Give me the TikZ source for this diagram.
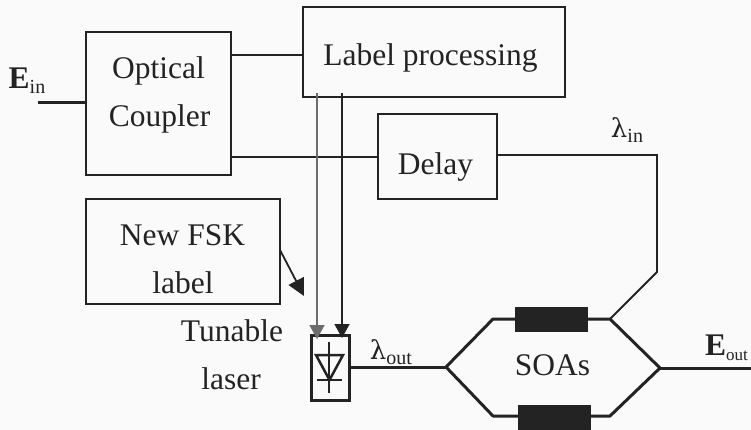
\documentclass[tikz,border=0pt]{standalone}
\usepackage{fontspec}
\setmainfont{Liberation Serif}
\newfontfamily\lamfont{DejaVu Serif}
\usetikzlibrary{arrows.meta}
\definecolor{ink}{HTML}{232323}
\definecolor{paper}{HTML}{FAFAFA}
\tikzset{
  boxnode/.style={draw=ink,line width=1.7pt,minimum width=#1,inner sep=0pt,outer sep=0pt},
  txt/.style={text=ink,font=\fontsize{31.5}{36}\selectfont,inner sep=0pt,anchor=base},
  wire/.style={draw=ink,line width=1.8pt},
  bus/.style={draw=ink,line width=3pt},
  soa/.style={fill=ink,draw=none,minimum width=73pt,inner sep=0pt,outer sep=0pt},
  ctrl/.style={line width=1.5pt,-{Triangle[length=14pt,width=15pt]}},
}
\newcommand{\subtxt}[1]{{\fontsize{20}{20}\selectfont\raisebox{-5pt}{#1}}}
\begin{document}
\begin{tikzpicture}[x=1pt,y=-1pt]
\path[fill=paper] (0,0) rectangle (751,430);
\useasboundingbox (0,0) rectangle (751,430);
% boxes
\node[boxnode=145pt,minimum height=143pt] (coupler) at (158.5,103.5) {};
\node[boxnode=262pt,minimum height=90pt] (label) at (434,52) {};
\node[boxnode=119pt,minimum height=85pt] (delay) at (437.5,156.5) {};
\node[boxnode=194pt,minimum height=105pt] (fsk) at (183,251.5) {};
\node[draw=ink,line width=3pt,minimum width=38pt,minimum height=65pt,inner sep=0pt,outer sep=0pt] (laser) at (330,367.5) {};
\node[soa,minimum height=25pt] (soaA) at (551.5,319.5) {};
\node[soa,minimum height=25pt] (soaB) at (554.5,417) {};
% texts
\node[txt] (t1) at (158.5,79) {Optical};
\node[txt] (t2) at (159.5,127) {Coupler};
\node[txt] (t3) at (430.5,66) {Label processing};
\node[txt] (t4) at (435.5,175) {Delay};
\node[txt] (t5) at (182.5,245) {New FSK};
\node[txt] (t6) at (183,293) {label};
\node[txt] (t7) at (232,341) {Tunable};
\node[txt] (t8) at (231,389) {laser};
\node[txt] (t9) at (552.5,375) {SOAs};
\node[txt] (t10) at (27,89) {\textbf{E}\subtxt{in}};
\node[txt,anchor=base west] (t11) at (705,355) {\textbf{E}{\fontsize{17}{17}\selectfont\raisebox{-5pt}{out}}};
\node[txt] (t12) at (627,138) {{\lamfont\fontsize{26}{30}\selectfont λ}\subtxt{in}};
\node[txt] (t13) at (391,359) {{\lamfont\fontsize{26}{30}\selectfont λ}\subtxt{out}};
% junctions
\coordinate (ein) at (38,103);
\coordinate (jl) at (446,367);
\coordinate (tl) at (493,319);
\coordinate (tr) at (610,319);
\coordinate (jr) at (660,368);
\coordinate (br) at (610,416);
\coordinate (bl) at (493,416);
\coordinate (eout) at (751,368);
\coordinate (up) at (657,272);
\coordinate (upt) at (657,155);
\coordinate (y1) at (0,55);
\coordinate (y2) at (0,157);
\coordinate (y3) at (0,250);
\coordinate (x1) at (317,0);
\coordinate (x2) at (342,0);
\coordinate (fskto) at (304,296);
\coordinate (d1) at (329,342);
\coordinate (d2) at (329,393);
\coordinate (g2) at (317,339);
\coordinate (k2) at (342,338);
% connectors
\draw[bus] (ein) -- (coupler.west |- ein);
\draw[wire] (coupler.east |- y1) -- (label.west |- y1);
\draw[wire] (coupler.east |- y2) -- (delay.west |- y2);
\draw[wire] (delay.east |- upt) -- (upt) -- (up) -- (tr);
\draw[bus] (laser.east |- jl) -- (jl);
\draw[bus,line join=round] (jl) -- (tl) -- (soaA.west |- tl);
\draw[bus,line join=round] (soaA.east |- tr) -- (tr) -- (jr) -- (br) -- (soaB.east |- br);
\draw[bus,line join=round] (soaB.west |- bl) -- (bl) -- (jl);
\draw[bus] (jr) -- (eout);
\draw[ctrl,color=gray!85!black] (x1 |- label.south) ++(0,-4) -- (g2);
\draw[ctrl,color=ink] (x2 |- label.south) ++(0,-4) -- (k2);
\draw[color=ink,line width=1.8pt,-{Triangle[length=17pt,width=17pt]}] (fsk.east |- y3) -- (fskto);
% diode
\draw[line width=2.5pt,draw=ink,line join=miter] (316,355) -- (343,355) -- (329.5,380) -- cycle;
\draw[line width=2.5pt,draw=ink] (d1) -- (d2);
\draw[line width=2.5pt,draw=ink] (317,380) -- (342,380);
\end{tikzpicture}
\end{document}
